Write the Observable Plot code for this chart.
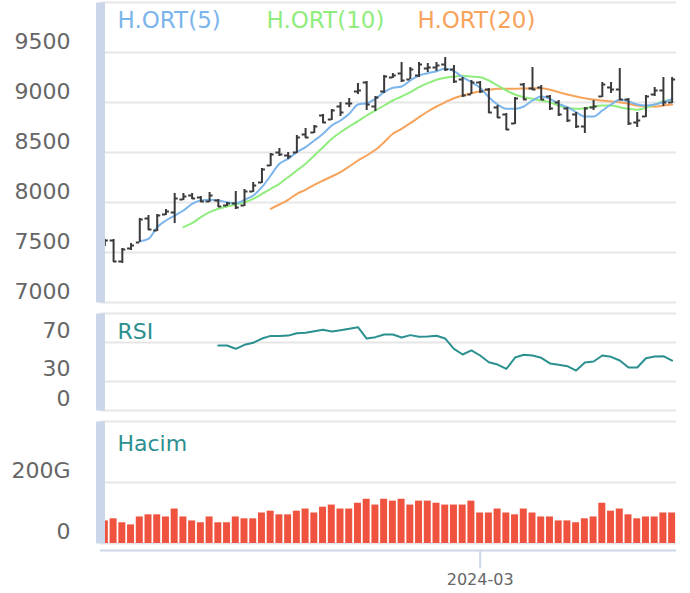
<!DOCTYPE html>
<html><head><meta charset="utf-8">
<script src="https://cdn.jsdelivr.net/npm/d3@7"></script>
<script src="https://cdn.jsdelivr.net/npm/@observablehq/plot@0.6"></script>
<style>
body{margin:0;background:#fff;}
#chart{width:690px;height:593px;overflow:hidden;background:#fff;}
#chart svg{display:block;}
</style></head><body><div id="chart"></div>
<script>
const dates = [
"2024-01-02","2024-01-03","2024-01-04","2024-01-05","2024-01-08","2024-01-09","2024-01-10","2024-01-11","2024-01-12",
"2024-01-15","2024-01-16","2024-01-17","2024-01-18","2024-01-19","2024-01-22","2024-01-23","2024-01-24","2024-01-25","2024-01-26",
"2024-01-29","2024-01-30","2024-01-31","2024-02-01","2024-02-02","2024-02-05","2024-02-06","2024-02-07","2024-02-08","2024-02-09",
"2024-02-12","2024-02-13","2024-02-14","2024-02-15","2024-02-16","2024-02-19","2024-02-20","2024-02-21","2024-02-22","2024-02-23",
"2024-02-26","2024-02-27","2024-02-28","2024-02-29","2024-03-01","2024-03-04","2024-03-05","2024-03-06","2024-03-07","2024-03-08",
"2024-03-11","2024-03-12","2024-03-13","2024-03-14","2024-03-15","2024-03-18","2024-03-19","2024-03-20","2024-03-21","2024-03-22",
"2024-03-25","2024-03-26","2024-03-27","2024-03-28","2024-03-29","2024-04-01","2024-04-02"];

const open = [7600,7620,7410,7540,7600,7840,7720,7880,7900,8030,
8070,8050,8010,8020,7970,7990,7970,8110,8200,8370,
8500,8470,8500,8680,8700,8870,8830,8960,8990,9110,
9200,8960,9110,9250,9290,9230,9270,9340,9350,9380,
9330,9230,9080,9200,9130,8950,8880,8790,9180,9140,
9150,9060,9000,8940,8880,8760,8950,9060,9150,9130,
9030,8800,8860,9080,9120,9000];
const high = [7630,7630,7540,7590,7840,7870,7880,7930,8090,8090,
8090,8060,8100,8030,8000,8110,8130,8200,8340,8490,
8540,8500,8670,8740,8770,8880,8930,9000,9040,9190,
9210,9060,9270,9290,9400,9350,9400,9390,9400,9450,
9370,9250,9220,9210,9140,8970,8890,9050,9190,9350,
9170,9070,9020,8950,8900,8950,9020,9200,9200,9340,
9040,8900,9070,9150,9250,9250];
const low = [7560,7400,7390,7520,7600,7720,7710,7870,7790,8020,
8030,8000,8000,7950,7960,7930,7960,8100,8190,8360,
8460,8430,8490,8640,8690,8790,8820,8860,8950,9080,
8920,8910,9090,9240,9200,9230,9250,9300,9310,9310,
9190,9050,9080,9090,8890,8840,8720,8780,9020,9120,
9020,8920,8860,8800,8740,8690,8920,9050,9090,9020,
8770,8750,8850,9060,8960,8990];
const close = [7620,7410,7530,7570,7830,7730,7870,7910,8040,8060,
8040,8010,8070,7960,7990,7950,8110,8170,8330,8480,
8480,8460,8650,8650,8760,8800,8920,8900,8990,9120,
8980,9050,9260,9270,9220,9330,9380,9350,9370,9330,
9210,9070,9200,9110,8900,8850,8730,9040,9030,9130,
9030,8940,8880,8820,8760,8940,8960,9180,9130,9030,
8790,8820,9060,9120,9000,9230];

const ma5 = [null,null,null,null,7613,7637,7753,7820,7870,7920,
7987,8020,8027,8020,8003,7993,8027,8070,8153,8270,
8387,8437,8503,8553,8620,8687,8770,8820,8887,8980,
8993,9037,9103,9147,9160,9220,9270,9293,9313,9337,
9313,9253,9203,9147,9053,8980,8937,8937,8960,9020,
9060,9037,8987,8953,8903,8860,8860,8920,8980,9027,
9010,8980,8970,8980,9003,9037];
const ma10 = [null,null,null,null,null,null,null,null,null,7753,
7793,7853,7903,7937,7960,7980,8003,8037,8087,8137,
8187,8253,8320,8387,8470,8553,8637,8703,8760,8813,
8870,8920,8970,9020,9060,9103,9153,9193,9227,9247,
9260,9267,9260,9253,9220,9170,9120,9080,9053,9037,
9020,9003,8970,8947,8937,8943,8960,8970,8970,8953,
8937,8927,8947,8980,9013,9027];
const ma20 = [null,null,null,null,null,null,null,null,null,null,
null,null,null,null,null,null,null,null,null,7937,
7980,8027,8087,8127,8177,8220,8260,8303,8360,8420,
8470,8527,8603,8687,8737,8793,8853,8910,8960,9003,
9043,9070,9093,9113,9127,9137,9137,9137,9140,9143,
9143,9127,9103,9080,9060,9043,9030,9020,9010,9003,
8987,8970,8960,8960,8970,8980];
const rsi = [null,null,null,null,null,null,null,null,null,null,
null,null,null,67.0,67.0,63.6,67.7,69.8,74.2,76.9,
76.9,77.2,79.7,80.1,81.8,83.2,81.4,82.8,84.2,85.9,
74.2,75.6,78.4,78.4,75.3,77.7,76.0,76.3,77.0,74.2,
63.6,57.7,61.9,56.7,49.8,47.4,42.8,54.6,57.4,56.7,
54.3,48.5,47.1,45.7,41.2,49.5,50.5,56.7,55.3,51.5,
44.3,44.3,53.9,55.6,56.0,51.5];
const volume = [74,81,68,61,87,94,94,87,113,87,
74,68,87,68,68,87,81,81,100,106,
94,94,106,113,100,119,126,113,113,132,
145,126,145,139,145,126,139,139,132,126,
126,126,139,100,100,113,100,94,113,100,
87,87,74,74,68,81,87,132,106,113,
94,81,87,87,100,100];

const priceTicks = [7000,7500,8000,8500,9000,9500];
const priceGrid = [7000,7500,8000,8500,9000,9500,10000];
const rsiTicks = [0,30,70];
const rsiGrid = [0,30,70,100];
const volTicks = [0,200];
const volGrid = [0,200,400];
const xTicks = ["2024-03-01"];
const maLabels = ["H.ORT(5)","H.ORT(10)","H.ORT(20)"];
const panelLabels = ["RSI","Hacim"];

const bars = dates.map((d,i)=>({date:d, open:open[i], high:high[i], low:low[i], close:close[i],
  ma5:ma5[i], ma10:ma10[i], ma20:ma20[i], rsi:rsi[i], volume:volume[i]}));

const W = 690, ML = 100, MR = 14;
const style = {fontFamily:"'DejaVu Sans', sans-serif", fontSize:"22px", background:"transparent", color:"#666", overflow:"visible"};
const xOpts = {type:"band", domain:dates, paddingInner:0.2, paddingOuter:0.1};
const xHidden = {...xOpts, axis:null};
const gridStyle = {stroke:"#e6e6e6", strokeWidth:2};
const stripStyle = {anchor:"left", stroke:"#ccd6eb", strokeWidth:9, insetTop:4.5, insetBottom:4.5};
const ohlc = "#3a3a3c";
const c5 = "#7cb5ec", c10 = "#90ed7d", c20 = "#f7a35c", teal = "#2b908f";
const plain = d => String(d);

const p1 = Plot.plot({
  width: W, height: 306, marginLeft: ML, marginRight: MR, marginTop: 2, marginBottom: 4,
  style, x: xHidden, y: {domain:[7000,10000]},
  marks: [
    Plot.ruleY(priceGrid, gridStyle),
    Plot.axisY(priceTicks, {anchor:"left", tickSize:0, tickPadding:30, dy:-10.5, fill:"#666", label:null, tickFormat:plain}),
    Plot.line(bars, {x:"date", y:"ma20", stroke:c20, strokeWidth:2, curve:"monotone-x"}),
    Plot.line(bars, {x:"date", y:"ma10", stroke:c10, strokeWidth:2, curve:"monotone-x"}),
    Plot.line(bars, {x:"date", y:"ma5", stroke:c5, strokeWidth:2, curve:"monotone-x"}),
    Plot.ruleX(bars, {x:"date", y1:"low", y2:"high", stroke:ohlc, strokeWidth:2}),
    Plot.tickY(bars, {x:"date", y:"open", stroke:ohlc, strokeWidth:2, insetRight:3.5}),
    Plot.tickY(bars, {x:"date", y:"close", stroke:ohlc, strokeWidth:2, insetLeft:3.5}),
    Plot.frame(stripStyle),
    Plot.text([maLabels[0]], {frameAnchor:"top-left", dx:17, dy:18, lineAnchor:"middle", fill:c5, fontSize:23}),
    Plot.text([maLabels[1]], {frameAnchor:"top-left", dx:166, dy:18, lineAnchor:"middle", fill:c10, fontSize:23}),
    Plot.text([maLabels[2]], {frameAnchor:"top-left", dx:317, dy:18, lineAnchor:"middle", fill:c20, fontSize:23})
  ]
});

const p2 = Plot.plot({
  width: W, height: 110, marginLeft: ML, marginRight: MR, marginTop: 7, marginBottom: 6,
  style, x: xHidden, y: {domain:[0,100]},
  marks: [
    Plot.ruleY(rsiGrid, gridStyle),
    Plot.axisY(rsiTicks, {anchor:"left", tickSize:0, tickPadding:30, dy:-12, fill:"#666", label:null, tickFormat:plain}),
    Plot.line(bars, {x:"date", y:"rsi", stroke:teal, strokeWidth:2}),
    Plot.frame(stripStyle),
    Plot.text([panelLabels[0]], {frameAnchor:"top-left", dx:17, dy:18, lineAnchor:"middle", fill:teal})
  ]
});

const p3 = Plot.plot({
  width: W, height: 177, marginLeft: ML, marginRight: MR, marginTop: 5, marginBottom: 50,
  style, x: xOpts, y: {domain:[0,400]},
  marks: [
    Plot.ruleY(volGrid, gridStyle),
    Plot.barY(bars, {x:"date", y:"volume", fill:"#ef533f"}),
    Plot.ruleY([0], {stroke:"#ccd6eb", strokeWidth:2, dy:7}),
    Plot.axisY(volTicks, {anchor:"left", tickSize:0, tickPadding:30, dy:-12, fill:"#666", label:null,
      tickFormat: d => d === 0 ? "0" : d + "G"}),
    Plot.axisX(xTicks, {anchor:"bottom", tickSize:18, tickPadding:5, dy:7, stroke:"#ccd6eb", strokeWidth:2,
      fill:"#666", fontSize:16, label:null, tickFormat: d => d.slice(0,7)}),
    Plot.frame(stripStyle),
    Plot.text([panelLabels[1]], {frameAnchor:"top-left", dx:17, dy:22, lineAnchor:"middle", fill:teal})
  ]
});

const root = document.getElementById("chart");
root.append(p1, p2, p3);
</script></body></html>
